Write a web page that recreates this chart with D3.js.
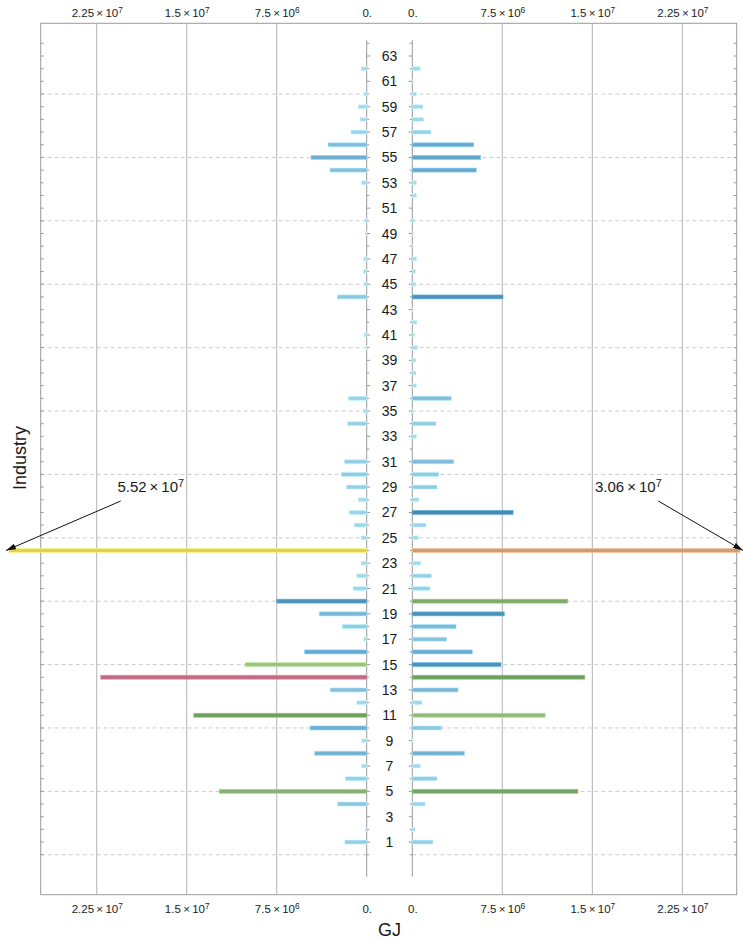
<!DOCTYPE html>
<html>
<head>
<meta charset="utf-8">
<script src="https://cdn.jsdelivr.net/npm/d3@7/dist/d3.min.js"></script>
<style>
  html, body { margin: 0; padding: 0; background: #fff; }
  svg { display: block; font-family: "Liberation Sans", Arial, sans-serif; }
</style>
</head>
<body>
<div id="chart"></div>
<script>
// ---------------- DATA ----------------
const industries = [1,2,3,4,5,6,7,8,9,10,11,12,13,14,15,16,17,18,19,20,21,22,23,24,25,26,27,28,29,30,31,32,33,34,35,36,37,38,39,40,41,42,43,44,45,46,47,48,49,50,51,52,53,54,55,56,57,58,59,60,61,62,63];

// left-hand side values (GJ)
const leftValues = [
  1.83e6, 0.11e6, 0, 2.42e6, 12.28e6, 1.78e6, 0.45e6, 4.34e6, 0.42e6, 4.72e6,
  14.42e6, 0.83e6, 3.03e6, 22.17e6, 10.14e6, 5.18e6, 0.25e6, 2.04e6, 3.95e6, 7.5e6,
  1.14e6, 0.83e6, 0.47e6, 5.52e7, 0.47e6, 1.03e6, 1.45e6, 0.7e6, 1.7e6, 2.11e6,
  1.86e6, 0, 0, 1.59e6, 0.28e6, 1.53e6, 0, 0, 0, 0.05e6,
  0.22e6, 0, 0, 2.45e6, 0.22e6, 0.28e6, 0.28e6, 0, 0.11e6, 0.17e6,
  0, 0, 0.45e6, 3.06e6, 4.64e6, 3.22e6, 1.31e6, 0.56e6, 0.7e6, 0.22e6,
  0, 0.47e6, 0
];

// right-hand side values (GJ)
const rightValues = [
  1.72e6, 0.25e6, 0, 1.08e6, 13.8e6, 2.06e6, 0.67e6, 4.34e6, 0.08e6, 2.45e6,
  11.08e6, 0.81e6, 3.81e6, 14.37e6, 7.39e6, 5.0e6, 2.86e6, 3.64e6, 7.67e6, 12.95e6,
  1.47e6, 1.61e6, 0.7e6, 3.06e7, 0.53e6, 1.14e6, 8.4e6, 0.56e6, 2.06e6, 2.2e6,
  3.45e6, 0, 0.36e6, 1.97e6, 0.11e6, 3.25e6, 0.36e6, 0.31e6, 0.31e6, 0.45e6,
  0.2e6, 0.39e6, 0.08e6, 7.56e6, 0.3e6, 0.28e6, 0.36e6, 0.1e6, 0.1e6, 0.2e6,
  0, 0.36e6, 0.36e6, 5.33e6, 5.7e6, 5.11e6, 1.56e6, 0.95e6, 0.89e6, 0.36e6,
  0.1e6, 0.67e6, 0
];

// axis ticks
const xTickValues = [0, 7.5e6, 1.5e7, 2.25e7];
const xTickMantissa = ["0.", "7.5", "1.5", "2.25"];
const xTickExponent = [null, "6", "7", "7"];
const yGridValues = [0, 5, 10, 15, 20, 25, 30, 35, 40, 45, 50, 55, 60];

// annotations for the off-scale bars
const annotIndustry = 24;
const annotLeftText = ["5.52", "7"];
const annotRightText = ["3.06", "7"];

const xTitle = "GJ";
const yTitle = "Industry";

// ---------------- LAYOUT ----------------
const W = 745, H = 942;
const frame = { top: 23.3, bottom: 894.7, left: 40.7, right: 736.7 };
const leftZero = 366.7, rightZero = 412.3;
const centerX = (leftZero + rightZero) / 2;

const svg = d3.select("#chart").append("svg")
  .attr("width", W).attr("height", H);

const xL = d3.scaleLinear().domain([0, 27.17e6]).range([leftZero, frame.left]);
const xR = d3.scaleLinear().domain([0, 27.03e6]).range([rightZero, frame.right]);
const y = d3.scaleLinear().domain([-3.15, 65.58]).range([frame.bottom, frame.top]);

const color = d3.scaleLinear()
  .domain([0, 1e6, 2e6, 3.5e6, 5e6, 6e6, 8.5e6, 9.5e6, 12e6, 14.5e6, 22e6, 30.6e6, 55.2e6])
  .range(["#acdcf0", "#a2d5eb", "#95cbe4", "#80bad9", "#6bacd0", "#5ca2c8", "#4389b2",
          "#a4c787", "#89b272", "#6b9f5b", "#bf6a85", "#cf9d74", "#e2cf5c"])
  .clamp(true);

const gridColor = "#b4b4b4";
const frameColor = "#9a9a9a";

// ---------------- GRID ----------------
const grid = svg.append("g");
[[frame.left, leftZero], [rightZero, frame.right]].forEach(([x0, x1]) => {
  grid.selectAll(null).data(yGridValues).enter().append("line")
    .attr("x1", x0).attr("x2", x1)
    .attr("y1", d => y(d)).attr("y2", d => y(d))
    .attr("stroke", "#cdcdcd").attr("stroke-width", 1)
    .attr("stroke-dasharray", "4,3");
});
[xL, xR].forEach(sc => {
  grid.selectAll(null).data(xTickValues.filter(v => v > 0)).enter().append("line")
    .attr("x1", d => sc(d)).attr("x2", d => sc(d))
    .attr("y1", frame.top).attr("y2", frame.bottom)
    .attr("stroke", gridColor).attr("stroke-width", 1);
});

// frame
svg.append("rect")
  .attr("x", frame.left).attr("y", frame.top)
  .attr("width", frame.right - frame.left).attr("height", frame.bottom - frame.top)
  .attr("fill", "none").attr("stroke", frameColor).attr("stroke-width", 1);

// frame ticks (every industry)
const frameTicks = d3.range(0, 65);
svg.append("g").selectAll("line").data(frameTicks).enter().append("line")
  .attr("x1", frame.left).attr("x2", frame.left + 3)
  .attr("y1", d => y(d)).attr("y2", d => y(d))
  .attr("stroke", frameColor);
svg.append("g").selectAll("line").data(frameTicks).enter().append("line")
  .attr("x1", frame.right).attr("x2", frame.right - 3)
  .attr("y1", d => y(d)).attr("y2", d => y(d))
  .attr("stroke", frameColor);

// center column lines
const colTop = y(64.26), colBottom = y(-1.73);
[leftZero, rightZero].forEach((x0, k) => {
  svg.append("line")
    .attr("x1", x0).attr("x2", x0).attr("y1", colTop).attr("y2", colBottom)
    .attr("stroke", frameColor).attr("stroke-width", 1);
  const dir = k === 0 ? 1 : -1;
  svg.append("g").selectAll("line").data(d3.range(0, 65)).enter().append("line")
    .attr("x1", x0).attr("x2", d => x0 + dir * (d % 2 === 1 ? 3.5 : 2.5))
    .attr("y1", d => y(d)).attr("y2", d => y(d))
    .attr("stroke", frameColor);
});

// ---------------- BARS ----------------
const barH = 4;
const leftLimit = xL.invert(9);     // off-scale bars run past the frame to here
const rightLimit = xR.invert(740);

const bars = svg.append("g");
const leftData = industries.map((d, i) => ({ ind: d, v: leftValues[i] })).filter(d => d.v > 0);
const rightData = industries.map((d, i) => ({ ind: d, v: rightValues[i] })).filter(d => d.v > 0);

bars.selectAll(".lb").data(leftData).enter().append("rect")
  .attr("x", d => xL(Math.min(d.v, leftLimit)))
  .attr("y", d => y(d.ind) - barH / 2)
  .attr("width", d => leftZero - xL(Math.min(d.v, leftLimit)))
  .attr("height", barH)
  .attr("fill", d => color(d.v))
  .attr("stroke", d => d3.color(color(d.v)).brighter(0.6))
  .attr("stroke-opacity", 0.55)
  .attr("stroke-width", 1);

bars.selectAll(".rb").data(rightData).enter().append("rect")
  .attr("x", rightZero)
  .attr("y", d => y(d.ind) - barH / 2)
  .attr("width", d => xR(Math.min(d.v, rightLimit)) - rightZero)
  .attr("height", barH)
  .attr("fill", d => color(d.v))
  .attr("stroke", d => d3.color(color(d.v)).brighter(0.6))
  .attr("stroke-opacity", 0.55)
  .attr("stroke-width", 1);

// ---------------- CENTER LABELS ----------------
svg.append("g").selectAll("text").data(industries.filter(d => d % 2 === 1)).enter().append("text")
  .attr("x", centerX).attr("y", d => y(d))
  .attr("dy", "0.36em")
  .attr("text-anchor", "middle")
  .attr("font-size", 14).attr("fill", "#1a1a1a")
  .text(d => d);

// ---------------- AXES (top & bottom) ----------------
function sciLabel(sel) {
  sel.each(function(d) {
    const t = d3.select(this);
    t.text(null);
    const idx = xTickValues.indexOf(d);
    if (xTickExponent[idx] === null) {
      t.append("tspan").text(xTickMantissa[idx]);
    } else {
      t.append("tspan").text(xTickMantissa[idx] + "\u2009\u00d7\u200910");
      t.append("tspan").attr("dy", "-0.45em").attr("font-size", "0.72em").text(xTickExponent[idx]);
    }
  });
}
function drawAxis(scale, axisFn, baseline) {
  const g = svg.append("g")
    .call(axisFn(scale).tickValues(xTickValues).tickSize(0).tickPadding(0).tickFormat(d => d));
  g.select(".domain").remove();
  g.selectAll(".tick text")
    .attr("font-family", "Liberation Sans, Arial, sans-serif")
    .attr("font-size", 11.5).attr("fill", "#1a1a1a")
    .attr("y", baseline).attr("dy", null)
    .attr("text-anchor", "middle")
    .call(sciLabel);
}
drawAxis(xL, d3.axisTop, 17);
drawAxis(xR, d3.axisTop, 17);
drawAxis(xL, d3.axisBottom, 913);
drawAxis(xR, d3.axisBottom, 913);

// ---------------- TITLES ----------------
svg.append("text")
  .attr("x", centerX).attr("y", 936)
  .attr("text-anchor", "middle").attr("font-size", 18).attr("fill", "#1a1a1a")
  .text(xTitle);
svg.append("text")
  .attr("transform", `translate(26,${y(31.3)}) rotate(-90)`)
  .attr("text-anchor", "middle").attr("font-size", 18).attr("fill", "#1a1a1a")
  .text(yTitle);

// ---------------- ANNOTATIONS ----------------
const defs = svg.append("defs");
defs.append("marker")
  .attr("id", "arrow").attr("viewBox", "0 0 10 6")
  .attr("refX", 10).attr("refY", 3)
  .attr("markerWidth", 10).attr("markerHeight", 6)
  .attr("markerUnits", "userSpaceOnUse")
  .attr("orient", "auto")
  .append("path").attr("d", "M0,0 L10,3 L0,6 Z").attr("fill", "#111");

function annot(scale, limit, txt, sign) {
  const tipX = scale(limit) - sign * 3;
  const tipY = y(annotIndustry);
  svg.append("line")
    .attr("x1", scale(20.5e6)).attr("y1", y(27.9))
    .attr("x2", tipX).attr("y2", tipY)
    .attr("stroke", "#111").attr("stroke-width", 1)
    .attr("marker-end", "url(#arrow)");
  const t = svg.append("text")
    .attr("x", scale(18e6)).attr("y", y(28.6))
    .attr("text-anchor", "middle").attr("font-size", 15).attr("fill", "#1a1a1a");
  t.append("tspan").text(txt[0] + "\u2009\u00d7\u200910");
  t.append("tspan").attr("dy", "-0.45em").attr("font-size", "0.72em").text(txt[1]);
}
annot(xL, leftLimit, annotLeftText, 1);
annot(xR, rightLimit, annotRightText, -1);
</script>
</body>
</html>
